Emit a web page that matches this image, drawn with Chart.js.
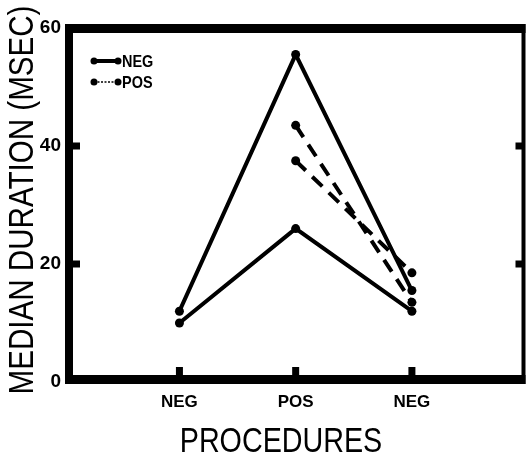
<!DOCTYPE html>
<html>
<head>
<meta charset="utf-8">
<script src="https://cdn.jsdelivr.net/npm/chart.js@4.4.0/dist/chart.umd.min.js"></script>
<style>
  html, body { margin: 0; padding: 0; background: #fff; }
  #wrap { width: 528px; height: 455px; }
</style>
</head>
<body>
<div id="wrap"><canvas id="c" width="528" height="455"></canvas></div>
<script>
// Procedure order along the x axis
const procedures = ['NEG', 'POS', 'NEG'];
const positions = [1, 2, 3];

// Median durations (msec); null = no value at that procedure
const negHigh = [12, 55.5, 15.5];
const negLow  = [10, 26, 12];
const posHigh = [null, 43.5, 13.5];
const posLow  = [null, 37.5, 18.5];

// Y axis tick values
const yTicks = [0, 20, 40, 60];
const yStubs = [20, 40];

const INK = '#000';
const SANS = '"Liberation Sans", Arial, sans-serif';

function toPoints(values) {
  const pts = [];
  values.forEach((v, i) => { if (v !== null) pts.push({ x: positions[i], y: v }); });
  return pts;
}

function lineSet(label, values, dash) {
  return {
    label: label,
    data: toPoints(values),
    borderColor: INK,
    backgroundColor: INK,
    borderWidth: 4,
    borderDash: dash,
    borderCapStyle: 'butt',
    pointRadius: 4.5,
    pointBorderWidth: 0,
    pointBackgroundColor: INK,
    tension: 0,
    fill: false
  };
}

// draw text squeezed horizontally around its anchor (condensed lettering)
function narrowText(ctx, text, x, y, squeeze) {
  ctx.save();
  ctx.translate(x, y);
  ctx.scale(squeeze, 1);
  ctx.fillText(text, 0, 0);
  ctx.restore();
}

// Heavy frame, inner tick stubs, axis titles and the key
const framePlugin = {
  id: 'frame',
  afterDraw(chart) {
    const { ctx, chartArea: a, scales } = chart;
    const xs = scales.x, ys = scales.y;
    ctx.save();
    ctx.fillStyle = INK;
    // frame
    ctx.fillRect(a.left - 4, a.top - 4, a.right - a.left + 6, 9);   // top
    ctx.fillRect(a.left - 4, a.top - 4, 8, a.bottom - a.top + 6);   // left
    ctx.fillRect(a.left - 4, a.bottom - 7, a.right - a.left + 6, 9); // bottom
    ctx.fillRect(a.right - 2, a.top - 4, 4, a.bottom - a.top + 6);  // right
    // stubs on left and right axes
    yStubs.forEach(v => {
      const y = ys.getPixelForValue(v);
      ctx.fillRect(a.left + 3, y - 3.5, 8, 7);
      ctx.fillRect(a.right - 8, y - 3.5, 7, 7);
    });
    // stubs on bottom axis
    positions.forEach(p => {
      const x = xs.getPixelForValue(p);
      ctx.fillRect(x - 3.5, a.bottom - 15, 7, 9);
    });

    // axis titles
    ctx.font = '35px ' + SANS;
    ctx.textAlign = 'center';
    ctx.textBaseline = 'alphabetic';
    narrowText(ctx, 'PROCEDURES', 281, 452, 0.82);
    ctx.save();
    ctx.translate(33, 200);
    ctx.rotate(-Math.PI / 2);
    narrowText(ctx, 'MEDIAN DURATION (MSEC)', 0, 0, 0.845);
    ctx.restore();

    // key
    const seen = [];
    chart.data.datasets.forEach(ds => { if (!seen.find(s => s.label === ds.label)) seen.push(ds); });
    ctx.font = 'bold 17px ' + SANS;
    ctx.textAlign = 'left';
    ctx.textBaseline = 'middle';
    seen.forEach((ds, i) => {
      const y = 61 + i * 21;
      const x0 = 94, x1 = 118;
      ctx.strokeStyle = INK;
      if (ds.borderDash && ds.borderDash.length) {
        ctx.lineWidth = 1.5;
        ctx.setLineDash([2, 1.5]);
      } else {
        ctx.lineWidth = 4;
        ctx.setLineDash([]);
      }
      ctx.beginPath();
      ctx.moveTo(x0, y);
      ctx.lineTo(x1, y);
      ctx.stroke();
      ctx.setLineDash([]);
      ctx.beginPath(); ctx.arc(x0, y, 3.5, 0, Math.PI * 2); ctx.fill();
      ctx.beginPath(); ctx.arc(x1, y, 3.5, 0, Math.PI * 2); ctx.fill();
      narrowText(ctx, ds.label, 122, y + 1, 0.85);
    });
    ctx.restore();
  }
};

new Chart(document.getElementById('c'), {
  type: 'line',
  data: {
    datasets: [
      lineSet('NEG', negHigh, []),
      lineSet('NEG', negLow, []),
      lineSet('POS', posHigh, [14, 9]),
      lineSet('POS', posLow, [14, 9])
    ]
  },
  options: {
    responsive: false,
    animation: false,
    devicePixelRatio: 1,
    layout: { padding: { top: 28, right: 3, left: 0, bottom: 0 } },
    plugins: { legend: { display: false }, tooltip: { enabled: false } },
    scales: {
      x: {
        type: 'linear',
        min: 0.05,
        max: 3.96,
        afterBuildTicks: s => { s.ticks = positions.map(v => ({ value: v })); },
        afterFit: s => { s.height = 73; },
        grid: { display: false, drawTicks: false },
        border: { display: false },
        ticks: {
          color: INK,
          padding: 10,
          maxRotation: 0,
          font: { family: SANS, size: 17, weight: 'bold' },
          callback: v => procedures[positions.indexOf(v)]
        }
      },
      y: {
        min: 0,
        max: 60,
        afterBuildTicks: s => { s.ticks = yTicks.map(v => ({ value: v })); },
        afterFit: s => { s.width = 69; },
        grid: { display: false, drawTicks: false },
        border: { display: false },
        ticks: {
          color: INK,
          padding: 8,
          font: { family: SANS, size: 19, weight: 'bold' }
        }
      }
    }
  },
  plugins: [framePlugin]
});
</script>
</body>
</html>
